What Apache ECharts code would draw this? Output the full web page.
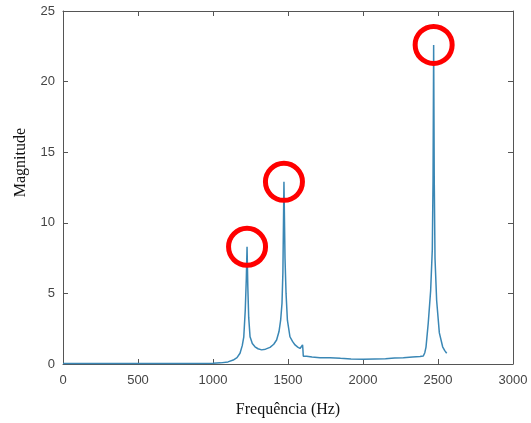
<!DOCTYPE html>
<html>
<head>
<meta charset="utf-8">
<script src="https://cdn.jsdelivr.net/npm/echarts@6/dist/echarts.min.js"></script>
<style>html,body{margin:0;padding:0;background:#fff;}#c{width:531px;height:423px;}</style>
</head>
<body>
<div id="c"></div>
<script>
var freq = [0, 200, 400, 600, 800, 1000, 1050, 1100, 1135, 1160, 1180, 1195, 1205, 1215, 1222, 1227, 1232, 1238, 1247, 1262, 1280, 1300, 1324, 1350, 1380, 1405, 1424, 1440, 1451, 1460, 1466, 1473, 1480, 1487, 1496, 1513, 1530, 1547, 1565, 1580, 1592, 1597, 1599, 1602, 1610, 1624, 1660, 1713, 1780, 1850, 1920, 2002, 2080, 2150, 2210, 2269, 2330, 2380, 2402, 2412, 2420, 2435, 2451, 2462, 2467, 2471, 2475, 2480, 2491, 2509, 2531, 2545, 2558];
var magnitude = [0.03, 0.03, 0.03, 0.03, 0.04, 0.05, 0.08, 0.15, 0.28, 0.45, 0.76, 1.3, 1.9, 3.8, 6.0, 8.3, 5.5, 3.3, 1.93, 1.45, 1.22, 1.08, 1.0, 1.05, 1.18, 1.4, 1.7, 2.3, 3.1, 4.3, 6.5, 12.9, 7.5, 5.0, 3.1, 1.93, 1.6, 1.35, 1.2, 1.1, 1.02, 1.35, 1.1, 0.55, 0.62, 0.55, 0.5, 0.45, 0.45, 0.4, 0.36, 0.33, 0.36, 0.38, 0.42, 0.45, 0.5, 0.53, 0.57, 0.8, 1.2, 2.9, 5.2, 8.1, 13.0, 22.6, 13.0, 7.5, 4.5, 2.2, 1.22, 0.95, 0.76];
var peakFreq = [1227, 1473, 2471];
var peakMag = [8.3, 12.9, 22.6];
var xTicks = [0, 500, 1000, 1500, 2000, 2500, 3000];
var yTicks = [0, 5, 10, 15, 20, 25];

var lineData = freq.map(function (f, i) { return [f, magnitude[i]]; });
var peakData = peakFreq.map(function (f, i) { return [f, peakMag[i]]; });

var axisCol = '#555555';
var labelCol = '#444444';
function fmt(v) { return String(v); }
function baseX(pos, show) {
  return {
    type: 'value', position: pos, min: xTicks[0], max: xTicks[xTicks.length - 1], interval: 500,
    axisLine: { show: true, onZero: false, lineStyle: { color: axisCol, width: 1 } },
    axisTick: { show: true, inside: true, length: 5, lineStyle: { color: axisCol } },
    axisLabel: { show: show, color: labelCol, fontFamily: 'Liberation Sans', fontSize: 13, margin: 10, formatter: fmt },
    splitLine: { show: false }
  };
}
function baseY(pos, show) {
  return {
    type: 'value', position: pos, min: yTicks[0], max: yTicks[yTicks.length - 1], interval: 5,
    axisLine: { show: true, onZero: false, lineStyle: { color: axisCol, width: 1 } },
    axisTick: { show: true, inside: true, length: 5, lineStyle: { color: axisCol } },
    axisLabel: { show: show, color: labelCol, fontFamily: 'Liberation Sans', fontSize: 13, margin: 8, formatter: fmt },
    splitLine: { show: false }
  };
}
var xb = baseX('bottom', true);
xb.name = 'Frequência (Hz)';
xb.nameLocation = 'middle';
xb.nameGap = 38;
xb.nameTextStyle = { color: '#111', fontFamily: 'Liberation Serif', fontSize: 16 };
var yl = baseY('left', true);

var chart = echarts.init(document.getElementById('c'), null, { renderer: 'canvas' });
chart.setOption({
  animation: false,
  backgroundColor: '#ffffff',
  grid: { left: 63, right: 18, top: 11, bottom: 59, containLabel: false },
  xAxis: [xb, baseX('top', false)],
  yAxis: [yl, baseY('right', false)],
  graphic: [{
    type: 'text', left: 13, top: 128, rotation: Math.PI / 2,
    style: { text: 'Magnitude', fill: '#111', font: '16px "Liberation Serif"' }
  }],
  series: [
    {
      type: 'line', xAxisIndex: 0, yAxisIndex: 0, data: lineData, showSymbol: false,
      lineStyle: { color: '#3a87b5', width: 1.5 }, z: 2
    },
    {
      type: 'scatter', xAxisIndex: 0, yAxisIndex: 0, data: peakData, symbol: 'circle', symbolSize: 37,
      itemStyle: { color: 'rgba(0,0,0,0)', borderColor: '#ff0000', borderWidth: 5, opacity: 1 }, z: 3
    }
  ]
});
</script>
</body>
</html>
